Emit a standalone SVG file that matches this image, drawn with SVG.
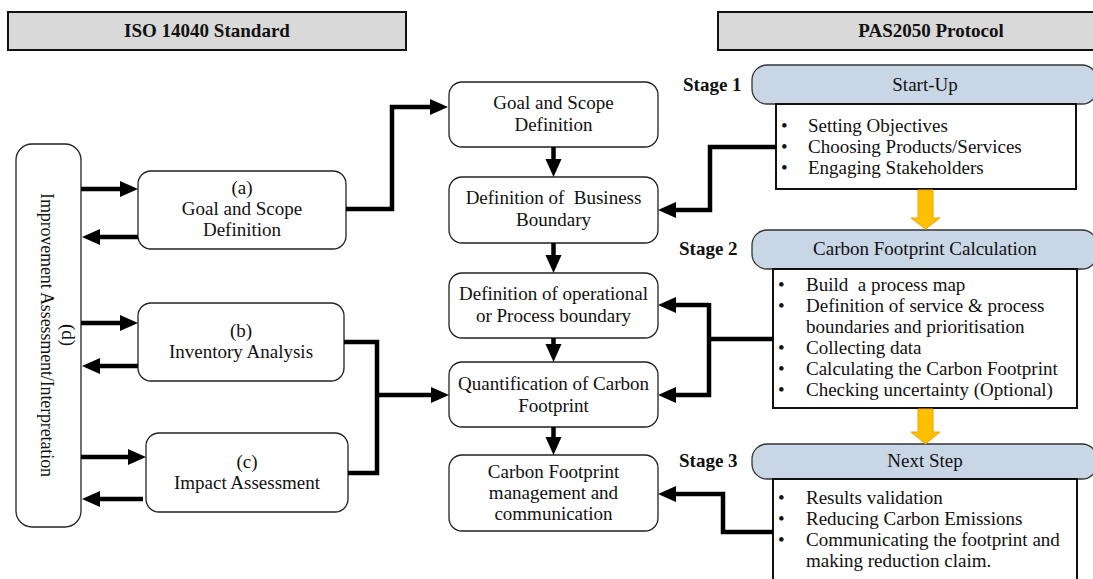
<svg xmlns="http://www.w3.org/2000/svg" width="1093" height="579" viewBox="0 0 1093 579">
  <style>
    text { font-family: "Liberation Serif", "Times New Roman", serif; font-size: 19px; fill: #111; white-space: pre; }
    .c { text-anchor: middle; }
    .b { font-weight: bold; }
    .hdr { fill: #d9d9d9; stroke: #111; stroke-width: 2; }
    .node { fill: #fff; stroke: #222; stroke-width: 1.3; }
    .stage { fill: #c9d6e6; stroke: #333; stroke-width: 1.3; }
    .body { fill: #fff; stroke: #111; stroke-width: 2; }
    .wire { fill: none; stroke: #000; stroke-width: 4.5; stroke-linejoin: miter; }
    .yarrow { fill: #ffc000; stroke: #f2a200; stroke-width: 1; }
  </style>
  <defs>
    <marker id="ah" markerUnits="userSpaceOnUse" markerWidth="18" markerHeight="18" refX="1" refY="9" orient="auto">
      <path d="M0,1 L18,9 L0,17 z" fill="#000"/>
    </marker>
  </defs>

  <!-- column headers -->
  <g id="hdr-iso">
    <rect class="hdr" x="8" y="12" width="398" height="38"/>
    <text class="c b" x="207" y="37">ISO 14040 Standard</text>
  </g>
  <g id="hdr-pas">
    <rect class="hdr" x="718" y="12" width="385" height="38"/>
    <text class="c b" x="931" y="37">PAS2050 Protocol</text>
  </g>

  <!-- ISO 14040 phases -->
  <g id="node-d">
    <rect class="node" x="16" y="144" width="65" height="383" rx="16"/>
    <text class="c" transform="translate(62,335) rotate(90)">(d)</text>
    <text class="c" style="font-size:18px" textLength="284" transform="translate(41,335) rotate(90)">Improvement Assessment/Interpretation</text>
  </g>
  <g id="node-a">
    <rect class="node" x="138" y="171" width="208" height="78" rx="13"/>
    <text class="c" x="242" y="194">(a)</text>
    <text class="c" x="242" y="215">Goal and Scope</text>
    <text class="c" x="242" y="236">Definition</text>
  </g>
  <g id="node-b">
    <rect class="node" x="138" y="303" width="206" height="78" rx="13"/>
    <text class="c" x="241" y="337">(b)</text>
    <text class="c" x="241" y="358">Inventory Analysis</text>
  </g>
  <g id="node-c">
    <rect class="node" x="146" y="433" width="202" height="79" rx="13"/>
    <text class="c" x="247" y="468">(c)</text>
    <text class="c" x="247" y="489">Impact Assessment</text>
  </g>

  <!-- carbon footprint steps -->
  <g id="step-goal">
    <rect class="node" x="449" y="82" width="209" height="65" rx="13"/>
    <text class="c" x="553.5" y="109">Goal and Scope</text>
    <text class="c" x="553.5" y="131">Definition</text>
  </g>
  <g id="step-business">
    <rect class="node" x="449" y="177" width="209" height="66" rx="13"/>
    <text class="c" x="553.5" y="204">Definition of  Business</text>
    <text class="c" x="553.5" y="226">Boundary</text>
  </g>
  <g id="step-process">
    <rect class="node" x="449" y="273" width="209" height="65" rx="13"/>
    <text class="c" x="553.5" y="300">Definition of operational</text>
    <text class="c" x="553.5" y="322">or Process boundary</text>
  </g>
  <g id="step-quant">
    <rect class="node" x="449" y="362" width="209" height="65" rx="13"/>
    <text class="c" x="553.5" y="390">Quantification of Carbon</text>
    <text class="c" x="553.5" y="412">Footprint</text>
  </g>
  <g id="step-manage">
    <rect class="node" x="449" y="455" width="209" height="76" rx="13"/>
    <text class="c" x="553.5" y="478">Carbon Footprint</text>
    <text class="c" x="553.5" y="499">management and</text>
    <text class="c" x="553.5" y="520">communication</text>
  </g>

  <!-- PAS2050 stages -->
  <g id="stage-1">
    <text class="b" x="683" y="91">Stage 1</text>
    <rect class="stage" x="752" y="65" width="345" height="39" rx="15"/>
    <text class="c" x="925" y="91">Start-Up</text>
    <rect class="body" x="776" y="104" width="300" height="85"/>
    <text x="781" y="132">•</text><text x="808" y="132">Setting Objectives</text>
    <text x="781" y="153">•</text><text x="808" y="153">Choosing Products/Services</text>
    <text x="781" y="174">•</text><text x="808" y="174">Engaging Stakeholders</text>
  </g>
  <g id="stage-2">
    <text class="b" x="679" y="255">Stage 2</text>
    <rect class="stage" x="752" y="230" width="345" height="39" rx="15"/>
    <text class="c" x="925" y="255">Carbon Footprint Calculation</text>
    <rect class="body" x="773" y="269" width="304" height="139"/>
    <text x="778" y="291">•</text><text x="806" y="291">Build  a process map</text>
    <text x="778" y="312">•</text><text x="806" y="312">Definition of service &amp; process</text>
    <text x="806" y="333">boundaries and prioritisation</text>
    <text x="778" y="354">•</text><text x="806" y="354">Collecting data</text>
    <text x="778" y="375">•</text><text x="806" y="375">Calculating the Carbon Footprint</text>
    <text x="778" y="396">•</text><text x="806" y="396">Checking uncertainty (Optional)</text>
  </g>
  <g id="stage-3">
    <text class="b" x="679" y="467">Stage 3</text>
    <rect class="stage" x="752" y="444" width="345" height="35" rx="15"/>
    <text class="c" x="925" y="467">Next Step</text>
    <rect class="body" x="773" y="479" width="304" height="110"/>
    <text x="778" y="504">•</text><text x="806" y="504">Results validation</text>
    <text x="778" y="525">•</text><text x="806" y="525">Reducing Carbon Emissions</text>
    <text x="778" y="546">•</text><text x="806" y="546">Communicating the footprint and</text>
    <text x="806" y="567">making reduction claim.</text>
  </g>

  <!-- connectors -->
  <g id="connectors">
    <!-- (d) <-> phases -->
    <path class="wire" d="M81,189 H121" marker-end="url(#ah)"/>
    <path class="wire" d="M138,237 H99" marker-end="url(#ah)"/>
    <path class="wire" d="M81,323 H121" marker-end="url(#ah)"/>
    <path class="wire" d="M138,366 H99" marker-end="url(#ah)"/>
    <path class="wire" d="M81,457 H129" marker-end="url(#ah)"/>
    <path class="wire" d="M143,499 H99" marker-end="url(#ah)"/>
    <!-- phases into the carbon footprint steps -->
    <path class="wire" d="M346,209 H392 V107 H431" marker-end="url(#ah)"/>
    <path class="wire" d="M344,342 H377 V473 H348"/>
    <path class="wire" d="M377,395 H432" marker-end="url(#ah)"/>
    <!-- step sequence -->
    <path class="wire" d="M553.5,147 V160" marker-end="url(#ah)"/>
    <path class="wire" d="M553.5,243 V256" marker-end="url(#ah)"/>
    <path class="wire" d="M553.5,338 V345" marker-end="url(#ah)"/>
    <path class="wire" d="M553.5,427 V438" marker-end="url(#ah)"/>
    <!-- stages feeding the steps -->
    <path class="wire" d="M776,147 H710 V210 H675" marker-end="url(#ah)"/>
    <path class="wire" d="M773,339 H709"/>
    <path class="wire" d="M709,305 H675" marker-end="url(#ah)"/>
    <path class="wire" d="M709,303 V395 H675" marker-end="url(#ah)"/>
    <path class="wire" d="M773,532 H723 V494 H675" marker-end="url(#ah)"/>
    <!-- stage progression -->
    <path class="yarrow" d="M918,190 H933 V218 H940 L925.5,229 L911,218 H918 Z"/>
    <path class="yarrow" d="M918,409 H933 V432 H940 L925.5,444 L911,432 H918 Z"/>
  </g>
</svg>
